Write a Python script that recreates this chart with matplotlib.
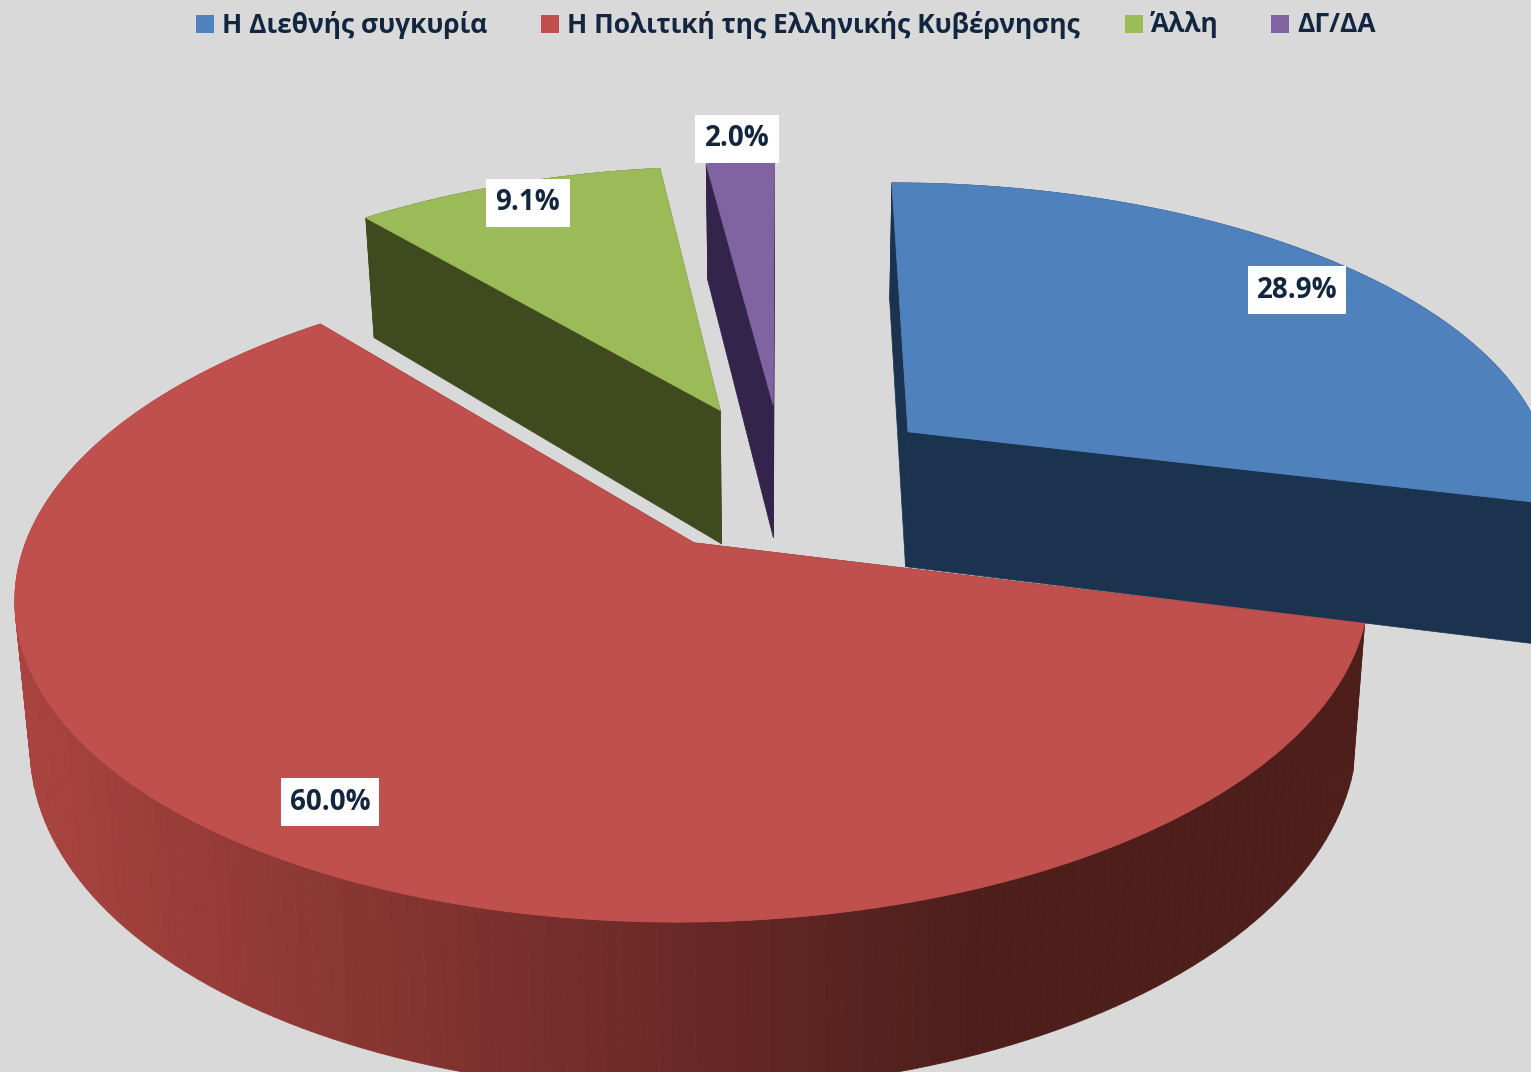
import matplotlib
matplotlib.use("Agg")
import matplotlib.pyplot as plt
import numpy as np

# chart data
categories = ["Η Διεθνής συγκυρία", "Η Πολιτική της Ελληνικής Κυβέρνησης", "Άλλη", "ΔΓ/ΔΑ"]
values = [28.9, 60.0, 9.1, 2.0]
labels = ["28.9%", "60.0%", "9.1%", "2.0%"]

top_colors = ["#4F81BD", "#C0504D", "#9BBB59", "#8064A2"]
side_colors = ["#1C334F", "#4E1E1B", "#3F4A1E", "#32244A"]
text_color = "#12263F"
bg = "#D9D9D9"

# perspective of the pie plane, fitted by eye (pixels)
cx = 783.0
horizon = -1495.0
x_scale = 0.328
c0, c1 = 5.071e-4, 0.77e-4
explode = 0.251
height = 0.07
shrink = 0.98

legend_x = [196, 541, 1125, 1271]
label_xy = [(1297, 290), (330, 802), (528, 203), (737, 139)]


def project(gx, gy):
    sy = 1.0 / (c0 + c1 * gy)
    return cx + x_scale * gx * sy, horizon + sy


def lower(sx, sy):
    # bottom rim of the slice
    return cx + (sx - cx) * shrink, sy + height * (sy - horizon)


def mix(col_a, col_b, t):
    a = np.array(matplotlib.colors.to_rgb(col_a))
    b = np.array(matplotlib.colors.to_rgb(col_b))
    return a + (b - a) * t


fig = plt.figure(figsize=(15.31, 10.72), dpi=100, facecolor=bg)
ax = fig.add_axes([0, 0, 1, 1])
ax.set_xlim(0, 1531)
ax.set_ylim(1072, 0)
ax.axis("off")

fracs = np.array(values) / sum(values) * 2 * np.pi
ends = np.cumsum(fracs)
starts = ends - fracs

# far slices first, the red one has to sit on top of the others
for i in [3, 2, 0, 1]:
    mid = (starts[i] + ends[i]) / 2
    ox, oy = explode * np.sin(mid), explode * np.cos(mid)
    th = np.linspace(starts[i], ends[i], 160)
    rim_x, rim_y = project(ox + np.sin(th), oy + np.cos(th))
    ap_x, ap_y = project(ox, oy)
    low_x, low_y = lower(rim_x, rim_y)
    lap_x, lap_y = lower(ap_x, ap_y)

    # flat radial walls
    for k in [0, -1]:
        ax.fill([ap_x, rim_x[k], low_x[k], lap_x], [ap_y, rim_y[k], low_y[k], lap_y],
                color=side_colors[i], lw=0.5)

    # outer wall, in vertical bands for the red slice
    if i == 1:
        for k in range(len(th) - 1):
            t = np.clip((rim_x[k] - 30) / 950, 0, 1)
            ax.fill([rim_x[k], rim_x[k + 1], low_x[k + 1], low_x[k]],
                    [rim_y[k], rim_y[k + 1], low_y[k + 1], low_y[k]],
                    color=mix("#A8433F", side_colors[1], t), lw=0.6)
    else:
        ax.fill(np.r_[rim_x, low_x[::-1]], np.r_[rim_y, low_y[::-1]],
                color=side_colors[i], lw=0.5)

    ax.fill(np.r_[ap_x, rim_x], np.r_[ap_y, rim_y], color=top_colors[i], lw=0.6)

for name, col, lx in zip(categories, top_colors, legend_x):
    ax.fill([lx, lx + 18, lx + 18, lx], [15, 15, 33, 33], color=col, lw=0)
    ax.text(lx + 26, 25, name, fontsize=19, fontweight="bold", family="Open Sans",
            color=text_color, va="center", ha="left")

for lab, (x, y) in zip(labels, label_xy):
    ax.text(x, y, lab, fontsize=20, fontweight="bold", family="Open Sans", color=text_color,
            ha="center", va="center", zorder=5,
            bbox=dict(facecolor="white", edgecolor="none", pad=6.5))

fig.savefig("out.png", dpi=100, facecolor=bg)
